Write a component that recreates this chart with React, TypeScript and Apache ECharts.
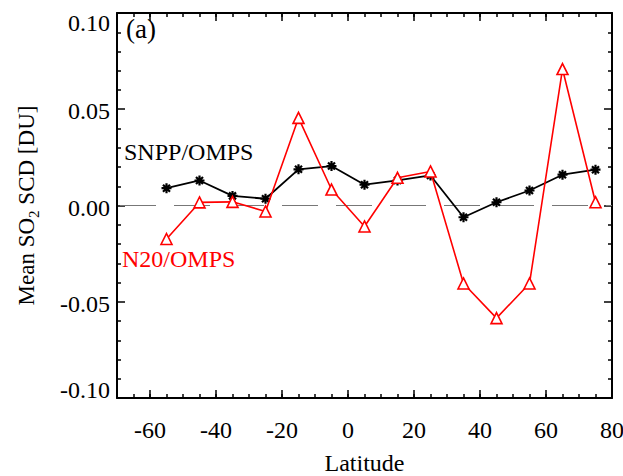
import React, { useEffect, useRef } from "react";
import * as echarts from "echarts";

const latitudes = [-55, -45, -35, -25, -15, -5, 5, 15, 25, 35, 45, 55, 65, 75];
const snppValues = [0.009, 0.013, 0.005, 0.0035, 0.0188, 0.0205, 0.0108, 0.013, 0.0156, -0.0061, 0.0017, 0.0078, 0.016, 0.0186];
const n20Values = [-0.0174, 0.0016, 0.0019, -0.0031, 0.0455, 0.0083, -0.0109, 0.0144, 0.0177, -0.0405, -0.0585, -0.0405, 0.0709, 0.0017];
const xTickLabels = [-60, -40, -20, 0, 20, 40, 60, 80];

const FONT = "Liberation Serif";
const ASTERISK = "path://M5 0L5 10M0 5L10 5M1.5 1.5L8.5 8.5M8.5 1.5L1.5 8.5";

export default function App() {
  const ref = useRef<HTMLDivElement>(null);
  useEffect(() => {
    document.body.style.margin = "0";
    if (!ref.current) return;
    const chart = echarts.init(ref.current, undefined, { renderer: "svg" });
    const axisLine = { show: true, onZero: false, lineStyle: { color: "#000", width: 2 } };
    const noLine = { show: false, onZero: false };
    const baseX = { type: "value", min: -70, max: 80, gridIndex: 0, splitLine: { show: false } };
    const tickStyle = { color: "#000", width: 1.5 };
    const labelText = { fontFamily: FONT, fontSize: 24, color: "#000" };
    const option: any = {
      animation: false,
      grid: { left: 117, right: 11, top: 13, bottom: 78, containLabel: false, outerBoundsMode: "none" },
      xAxis: [
        {
          ...baseX,
          position: "bottom",
          axisLine,
          axisTick: { inside: true, length: 8, customValues: xTickLabels, lineStyle: tickStyle },
          axisLabel: { customValues: xTickLabels, ...labelText, margin: 20 },
          name: "Latitude",
          nameLocation: "middle",
          nameGap: 53,
          nameTextStyle: { fontFamily: FONT, fontSize: 24, color: "#000" },
        },
        {
          ...baseX,
          position: "bottom",
          interval: 5,
          axisLine: noLine,
          axisTick: { inside: true, length: 4, lineStyle: tickStyle },
          axisLabel: { show: false },
        },
        {
          ...baseX,
          position: "top",
          axisLine,
          axisTick: { inside: true, length: 8, customValues: xTickLabels, lineStyle: tickStyle },
          axisLabel: { show: false },
        },
        {
          ...baseX,
          position: "top",
          interval: 5,
          axisLine: noLine,
          axisTick: { inside: true, length: 4, lineStyle: tickStyle },
          axisLabel: { show: false },
        },
      ],
      yAxis: [
        {
          type: "value",
          min: -0.1,
          max: 0.1,
          interval: 0.05,
          position: "left",
          axisLine,
          splitLine: { show: false },
          axisTick: { inside: true, length: 8, lineStyle: tickStyle },
          minorTick: { show: true, splitNumber: 5, length: 4, lineStyle: tickStyle },
          axisLabel: {
            ...labelText,
            margin: 7,
            formatter: (v: number) => {
              if (v > 0.099) return "{top|" + v.toFixed(2) + "}";
              if (v < -0.099) return "{bot|" + v.toFixed(2) + "}";
              return "{n|" + (Math.abs(v) < 1e-9 ? "0.00" : v.toFixed(2)) + "}";
            },
            rich: {
              top: { ...labelText, padding: [20, 0, 0, 0] },
              bot: { ...labelText, padding: [0, 0, 16, 0] },
              n: { ...labelText, padding: [4, 0, 0, 0] },
            },
          },
          name: "{a|Mean SO}{s|2}{a| SCD [DU]}",
          nameLocation: "middle",
          nameGap: 76,
          nameTextStyle: {
            fontFamily: FONT,
            fontSize: 23,
            color: "#000",
            rich: {
              a: { fontFamily: FONT, fontSize: 23, color: "#000", lineHeight: 30, verticalAlign: "middle" },
              s: { fontFamily: FONT, fontSize: 15, color: "#000", lineHeight: 30, verticalAlign: "bottom" },
            },
          },
        },
        {
          type: "value",
          min: -0.1,
          max: 0.1,
          interval: 0.05,
          position: "right",
          axisLine,
          splitLine: { show: false },
          axisTick: { inside: true, length: 8, lineStyle: tickStyle },
          minorTick: { show: true, splitNumber: 5, length: 4, lineStyle: tickStyle },
          axisLabel: { show: false },
        },
      ],
      graphic: [
        { type: "text", left: 126, top: 15, style: { text: "(a)", font: `27px '${FONT}'`, fill: "#000" } },
        { type: "text", left: 124, top: 140, style: { text: "SNPP/OMPS", font: `24px '${FONT}'`, fill: "#000" } },
        { type: "text", left: 122, top: 247, style: { text: "N20/OMPS", font: `24px '${FONT}'`, fill: "#ff0000" } },
      ],
      series: [
        {
          type: "line",
          data: [[-70, 0], [80, 0]],
          symbol: "none",
          silent: true,
          lineStyle: { color: "#777", width: 1, type: [36, 18], dashOffset: -3 },
          z: 1,
        },
        {
          type: "line",
          data: latitudes.map((x, i) => [x, snppValues[i]]),
          symbol: ASTERISK,
          symbolSize: 10,
          lineStyle: { color: "#000", width: 1.8 },
          itemStyle: { color: "#000", borderColor: "#000", borderWidth: 2.2 },
          z: 2,
        },
        {
          type: "line",
          data: latitudes.map((x, i) => [x, n20Values[i]]),
          symbol: "triangle",
          symbolSize: 11,
          lineStyle: { color: "#ff0000", width: 1.6 },
          itemStyle: { color: "#fff", borderColor: "#ff0000", borderWidth: 1.6 },
          z: 3,
        },
      ],
    };
    chart.setOption(option);
    return () => chart.dispose();
  }, []);
  return <div ref={ref} style={{ width: 623, height: 476 }} />;
}
